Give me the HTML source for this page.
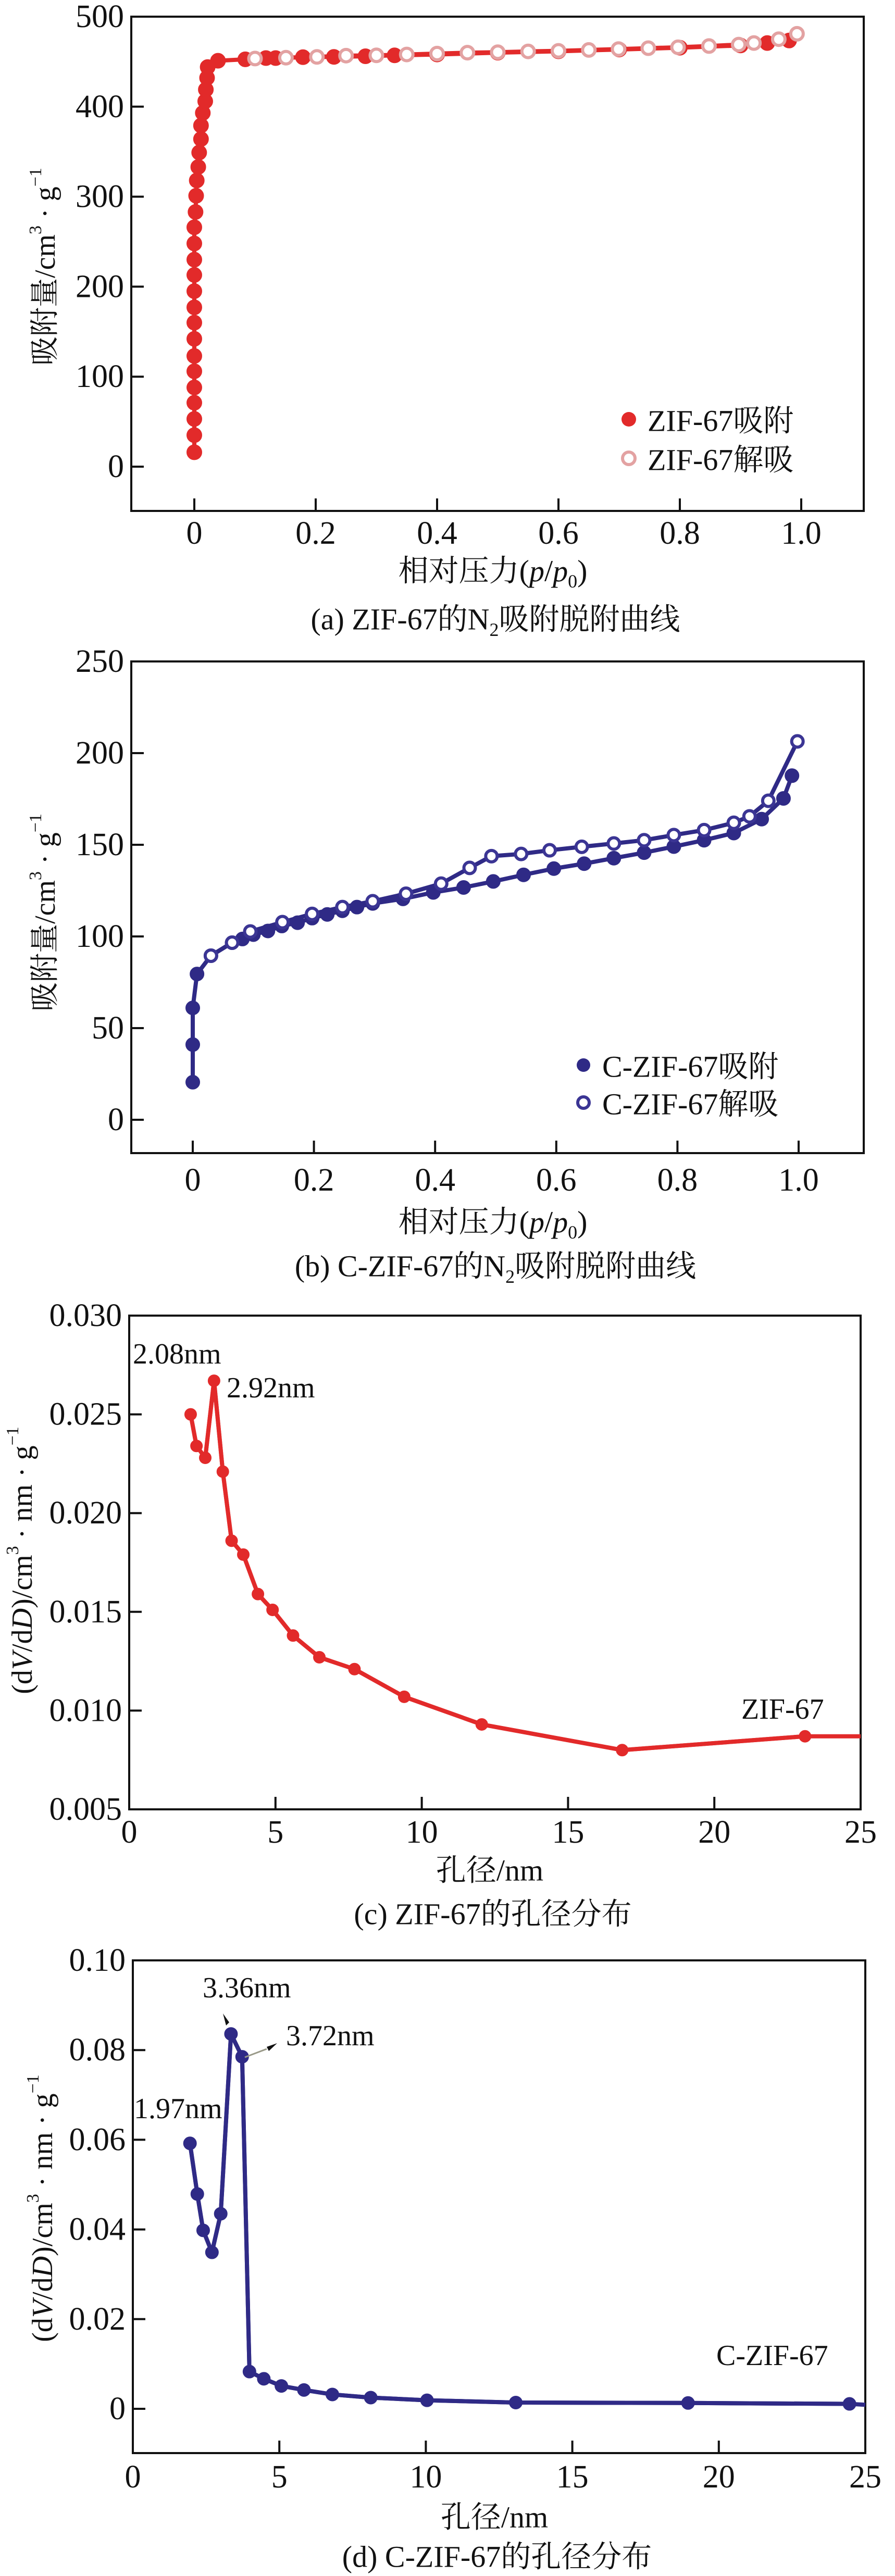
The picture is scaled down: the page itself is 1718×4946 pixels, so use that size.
<!DOCTYPE html>
<html><head><meta charset="utf-8"><style>
html,body{margin:0;padding:0;background:#fff;}
svg{display:block;}
text{font-family:"Liberation Serif","Noto Serif CJK SC","Noto Sans CJK SC",serif;fill:#111;}
</style></head>
<body>
<svg id="fig" width="1718" height="4946" viewBox="0 0 1718 4946" xmlns="http://www.w3.org/2000/svg"></svg>
<script>
// ---------- Chart (a) data ----------
const aAdsX=[0,0,0,0,0,0,0,0,0,0,0,0,0,0,0,0.002,0.003,0.004,0.0065,0.008,0.011,0.011,0.014,0.018,0.019,0.021,0.022,0.039,0.084,0.118,0.134,0.179,0.23,0.282,0.33,0.4,0.5,0.6,0.7,0.8,0.9,0.944,0.98];
const aAdsY=[16,35,53,71,88,106,123,142,160,177,195,213,230,248,266,283,301,318,333,349,364,379,393,406,419,432,444,451,452.6,454,454,455,455.3,456,457,458,460,461.5,463.5,465.5,468,470.7,473.5];
const aDesX=[0.993,0.963,0.922,0.897,0.848,0.797,0.748,0.699,0.65,0.6,0.55,0.5,0.45,0.4,0.35,0.3,0.25,0.202,0.151,0.1];
const aDesY=[481,475,470.7,469,467.4,466,465,464,463,462,461.4,460.5,460,459,458,457,456.7,455.3,454.4,453.5];
const aXTicks=[0,0.2,0.4,0.6,0.8,1.0];
const aXTickLabels=["0","0.2","0.4","0.6","0.8","1.0"];
const aYTicks=[0,100,200,300,400,500];
const aYTickLabels=["0","100","200","300","400","500"];
// ---------- Chart (b) data ----------
const bAdsX=[0,0,0,0.007,0.03,0.065,0.082,0.1,0.124,0.147,0.173,0.197,0.222,0.247,0.271,0.297,0.347,0.397,0.447,0.496,0.546,0.596,0.646,0.695,0.745,0.794,0.844,0.893,0.939,0.975,0.989];
const bAdsY=[20.5,41,61,79.5,89.5,96.6,98.6,101,103,105.7,107.5,110,112,114,116,118,120.5,124,126.7,130,133.6,137,139.7,142.7,145.7,149,152.5,156.4,164,175.3,187.7];
const bDesX=[0.998,0.95,0.919,0.893,0.844,0.794,0.745,0.695,0.642,0.589,0.542,0.493,0.457,0.41,0.352,0.297,0.247,0.197,0.148,0.095,0.065,0.03];
const bDesY=[206.4,174,165.5,162,158,155.3,152.5,150.7,148.9,147,145,143.8,137.4,128.8,123.3,119.2,116,112.3,107.8,102.7,96.6,89.5];
const bXTicks=[0,0.2,0.4,0.6,0.8,1.0];
const bXTickLabels=["0","0.2","0.4","0.6","0.8","1.0"];
const bYTicks=[0,50,100,150,200,250];
const bYTickLabels=["0","50","100","150","200","250"];
// ---------- Chart (c) data ----------
const cX=[2.1,2.3,2.6,2.9,3.2,3.5,3.9,4.4,4.9,5.6,6.5,7.7,9.4,12.05,16.85,23.1];
const cY=[0.0250,0.0234,0.0228,0.0267,0.0221,0.0186,0.0179,0.0159,0.0151,0.0138,0.0127,0.0121,0.0107,0.0093,0.0080,0.0087];
const cEndX=[25];
const cEndY=[0.0087];
const cXTicks=[0,5,10,15,20,25];
const cXTickLabels=["0","5","10","15","20","25"];
const cYTicks=[0.005,0.010,0.015,0.020,0.025,0.030];
const cYTickLabels=["0.005","0.010","0.015","0.020","0.025","0.030"];
// ---------- Chart (d) data ----------
const dX=[1.95,2.2,2.4,2.7,3.0,3.35,3.73,3.98,4.47,5.07,5.84,6.81,8.12,10.04,13.07,18.95,24.46];
const dY=[0.0592,0.0479,0.0398,0.0349,0.0435,0.0836,0.0785,0.0083,0.0067,0.0051,0.0042,0.0032,0.0025,0.0019,0.0014,0.0013,0.0011];
const dEndX=[25];
const dEndY=[0.0009];
const dXTicks=[0,5,10,15,20,25];
const dXTickLabels=["0","5","10","15","20","25"];
const dYTicks=[0,0.02,0.04,0.06,0.08,0.10];
const dYTickLabels=["0","0.02","0.04","0.06","0.08","0.10"];

const NS="http://www.w3.org/2000/svg";
const svg=document.getElementById('fig');
function mk(tag,attrs,parent){const e=document.createElementNS(NS,tag);for(const k in attrs)e.setAttribute(k,attrs[k]);(parent||svg).appendChild(e);return e;}
function txt(str,x,y,size,anchor,parent){const t=mk('text',{x:x,y:y,'font-size':size,'text-anchor':anchor||'middle','dominant-baseline':'central'},parent);t.textContent=str;return t;}

function axes(cfg){
  const g=mk('g',{});
  
  
  const sx=v=>cfg.xA+(v-cfg.x0)/(cfg.x1-cfg.x0)*(cfg.xB-cfg.xA);
  const sy=v=>cfg.yB-(v-cfg.y0)/(cfg.y1-cfg.y0)*(cfg.yB-cfg.yT);
  const box=mk('rect',{x:cfg.L,y:cfg.T,width:cfg.R-cfg.L,height:cfg.B-cfg.T,fill:'none',stroke:'#111','stroke-width':4},g);
  
  
  cfg.xt.forEach((v,i)=>{
    const x=sx(v);
    const tk=mk('line',{x1:x,x2:x,y1:cfg.B,y2:cfg.B-24,stroke:'#111','stroke-width':4},g);
    
    
    const lb=txt(cfg.xl[i],x,cfg.xlabY,62,'middle',g);
    
    
  });
  cfg.yt.forEach((v,i)=>{
    const y=sy(v);
    const tk=mk('line',{x1:cfg.L,x2:cfg.L+24,y1:y,y2:y,stroke:'#111','stroke-width':4},g);
    
    
    const lb=txt(cfg.yl[i],cfg.L-14,y,62,'end',g);
    
    
  });
  return {g,sx,sy};
}
function series(ax,xs,ys,color,open,r,name,fillOpen){
  const pts=xs.map((v,i)=>ax.sx(v)+','+ax.sy(ys[i])).join(' ');
  const pl=mk('polyline',{points:pts,fill:'none',stroke:color,'stroke-width':8,'stroke-linejoin':'round'},ax.g);
  
  
  if(r<=0)return;
  xs.forEach((v,i)=>{
    const c=mk('circle',{cx:ax.sx(v),cy:ax.sy(ys[i]),r:r,fill:open?'#fff':color,stroke:open?fillOpen:color,'stroke-width':open?6:2},ax.g);
    
    
  });
}
function ytitle(mainText,x,y,size,parent){
  const t=mk('text',{transform:'translate('+x+','+y+') rotate(-90)','font-size':size,'text-anchor':'middle','dominant-baseline':'central'},parent);
  t.innerHTML=mainText;
  
  
  return t;
}
function label(str,x,y,size,name,anchor,parent){
  const t=txt('',x,y,size,anchor||'middle',parent);
  t.innerHTML=str;
  
  
  return t;
}

const RED='#e22a2a', PINK='#e3a2a2', BLUE='#2f2a86', BLUE2='#3b3594';

// Chart a
const A=axes({name:'isotherm-zif67',L:252,R:1658,T:32,B:981,x0:0,x1:1,xA:373,xB:1538,yT:32,yB:896,y0:0,y1:500,
  xt:aXTicks,xl:aXTickLabels,yt:aYTicks,yl:aYTickLabels,xlabY:1024});
series(A,aAdsX,aAdsY,RED,false,14,'zif67-adsorption');
series(A,aDesX,aDesY,RED,true,12,'zif67-desorption',PINK);
ytitle('吸附量/cm<tspan baseline-shift="super" font-size="34">3</tspan> · g<tspan baseline-shift="super" font-size="34">−1</tspan>',87,512,56,A.g);
label('相对压力(<tspan font-style="italic">p</tspan>/<tspan font-style="italic">p</tspan><tspan baseline-shift="sub" font-size="36">0</tspan>)',946,1096,58,'x-axis-title','middle',A.g);
label('(a) ZIF-67的N<tspan baseline-shift="sub" font-size="36">2</tspan>吸附脱附曲线',951,1189,58,'caption-a','middle',A.g);
{const m=mk('circle',{cx:1207,cy:805,r:14,fill:RED},A.g);
 label('ZIF-67吸附',1243,808,58,'legend-entry-adsorption','start',A.g);
 const m2=mk('circle',{cx:1207,cy:880,r:12,fill:'#fff',stroke:PINK,'stroke-width':6},A.g);
 label('ZIF-67解吸',1243,883,58,'legend-entry-desorption','start',A.g);}

// Chart b
const B=axes({name:'isotherm-czif67',L:252,R:1658,T:1270,B:2214,x0:0,x1:1,xA:370,xB:1533,yT:1270,yB:2150,y0:0,y1:250,
  xt:bXTicks,xl:bXTickLabels,yt:bYTicks,yl:bYTickLabels,xlabY:2266});
series(B,bAdsX,bAdsY,BLUE,false,13,'czif67-adsorption');
series(B,bDesX,bDesY,BLUE,true,11,'czif67-desorption',BLUE2);
ytitle('吸附量/cm<tspan baseline-shift="super" font-size="34">3</tspan> · g<tspan baseline-shift="super" font-size="34">−1</tspan>',87,1752,56,B.g);
label('相对压力(<tspan font-style="italic">p</tspan>/<tspan font-style="italic">p</tspan><tspan baseline-shift="sub" font-size="36">0</tspan>)',946,2346,58,'x-axis-title','middle',B.g);
label('(b) C-ZIF-67的N<tspan baseline-shift="sub" font-size="36">2</tspan>吸附脱附曲线',951,2431,58,'caption-b','middle',B.g);
{const m=mk('circle',{cx:1120,cy:2045,r:13,fill:BLUE},B.g);
 label('C-ZIF-67吸附',1156,2048,58,'legend-entry-adsorption','start',B.g);
 const m2=mk('circle',{cx:1120,cy:2117,r:11,fill:'#fff',stroke:BLUE2,'stroke-width':6},B.g);
 label('C-ZIF-67解吸',1156,2120,58,'legend-entry-desorption','start',B.g);}

// Chart c
const C=axes({name:'pore-dist-zif67',L:248,R:1652,T:2526,B:3474,x0:0,x1:25,xA:248,xB:1652,yT:2526,yB:3474,y0:0.005,y1:0.030,
  xt:cXTicks,xl:cXTickLabels,yt:cYTicks,yl:cYTickLabels,xlabY:3518});
series(C,cX.concat(cEndX),cY.concat(cEndY),RED,false,0,'zif67-pore-curve');
series(C,cX,cY,RED,false,11,'zif67-pore');
ytitle('(d<tspan font-style="italic">V</tspan>/d<tspan font-style="italic">D</tspan>)/cm<tspan baseline-shift="super" font-size="34">3</tspan> · nm · g<tspan baseline-shift="super" font-size="34">−1</tspan>',43,2996,56,C.g);
label('孔径/nm',940,3591,58,'x-axis-title','middle',C.g);
label('(c) ZIF-67的孔径分布',946,3675,58,'caption-c','middle',C.g);
label('2.08nm',255,2600,56,'peak-label-2.08nm','start',C.g);
label('2.92nm',435,2665,56,'peak-label-2.92nm','start',C.g);
label('ZIF-67',1423,3282,56,'series-label-zif67','start',C.g);

// Chart d
const D=axes({name:'pore-dist-czif67',L:255,R:1661,T:3764,B:4710,x0:0,x1:25,xA:255,xB:1661,yT:3764,yB:4625,y0:0,y1:0.10,
  xt:dXTicks,xl:dXTickLabels,yt:dYTicks,yl:dYTickLabels,xlabY:4756});
series(D,dX.concat(dEndX),dY.concat(dEndY),BLUE,false,0,'czif67-pore-curve');
series(D,dX,dY,BLUE,false,12,'czif67-pore');
ytitle('(d<tspan font-style="italic">V</tspan>/d<tspan font-style="italic">D</tspan>)/cm<tspan baseline-shift="super" font-size="34">3</tspan> · nm · g<tspan baseline-shift="super" font-size="34">−1</tspan>',82,4240,56,D.g);
label('孔径/nm',949,4833,58,'x-axis-title','middle',D.g);
label('(d) C-ZIF-67的孔径分布',954,4909,58,'caption-d','middle',D.g);
label('3.36nm',389,3817,56,'peak-label-3.36nm','start',D.g);
label('3.72nm',549,3909,56,'peak-label-3.72nm','start',D.g);
label('1.97nm',257,4049,56,'peak-label-1.97nm','start',D.g);
label('C-ZIF-67',1375,4523,56,'series-label-czif67','start',D.g);
{const a1=mk('path',{d:'M428 3866 L440 3883 L434 3889 Z',fill:'#111'},D.g);
 const a2=mk('path',{d:'M532 3923 L512 3930 L516 3938 Z',fill:'#111'},D.g);
 const l2=mk('line',{x1:512,y1:3934,x2:470,y2:3950,stroke:'#998','stroke-width':3},D.g);}
</script>
</body></html>
